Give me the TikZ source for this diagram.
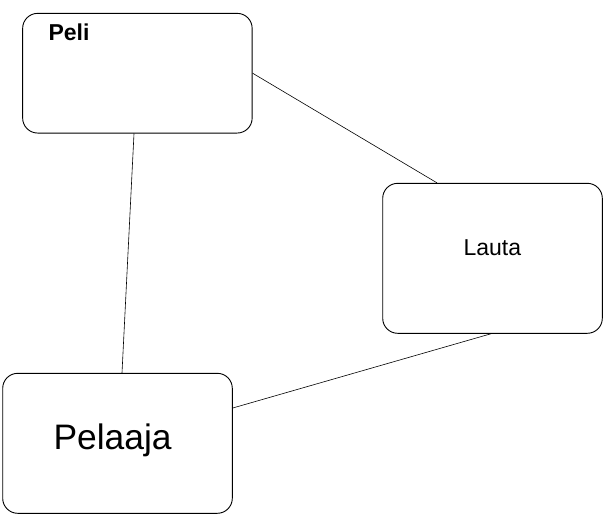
\documentclass[tikz,border=0pt]{standalone}
\usepackage{fontspec}
\setmainfont{Liberation Sans}
\usepackage{tikz}
\usetikzlibrary{positioning}
\tikzset{luokka/.style={draw,rounded corners=15pt,line width=0.9pt,inner sep=0pt},
nimi/.style={anchor=base west,inner sep=0pt,font=\fontsize{23}{28}\selectfont}}

\begin{document}
\begin{tikzpicture}[x=1pt,y=-1pt]
    \useasboundingbox (0,0) rectangle (604,517);
    
    % Boxes
    \node[luokka,minimum width=229.5pt,minimum height=119.7pt] (peli) at (137.4,73.2) {};
    \node[luokka,minimum width=219.6pt,minimum height=150pt] (lauta) at (492.5,258.3) {};
    \node[luokka,minimum width=229.6pt,minimum height=140pt] (pelaaja) at (117.5,443.3) {};
    
    % Names
    \node[nimi,font=\fontsize{23}{28}\selectfont\bfseries] (pelinimi) at (48.3,40) {Peli};
    \node[nimi] (lautanimi) at (463.3,255) {Lauta};
    \node[nimi,font=\fontsize{35.4}{42}\selectfont] (pelaajanimi) at (53.3,449.3) {Pelaaja};
    
    % Connectors
    \draw[line width=0.6pt] (peli.east) -- ([xshift=-55.5pt]lauta.north);
    \draw[line width=0.6pt] ([xshift=-3.4pt]peli.south) -- ([xshift=4.5pt]pelaaja.north);
    \draw[line width=0.6pt] ([xshift=-1.5pt]lauta.south) -- ([yshift=35.3pt]pelaaja.east);
\end{tikzpicture}
\end{document}
